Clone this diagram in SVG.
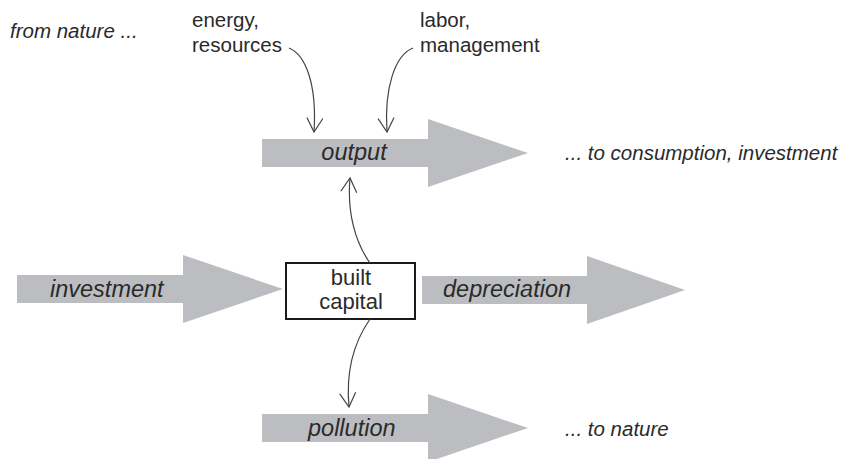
<svg xmlns="http://www.w3.org/2000/svg" width="865" height="459" viewBox="0 0 865 459">
<style>
.flow{fill:#bcbdc0;}
.in{font-family:"Liberation Sans",Arial,sans-serif;font-style:italic;font-size:23.5px;fill:#2a2a2a;}
.lab{font-family:"Liberation Sans",Arial,sans-serif;font-size:20.5px;fill:#2a2a2a;}
.it{font-style:italic;}
.box{fill:#fff;stroke:#1a1a1a;stroke-width:2;}
.boxt{font-family:"Liberation Sans",Arial,sans-serif;font-size:22px;fill:#2a2a2a;text-anchor:middle;}
.con{fill:none;stroke:#444;stroke-width:1.2;marker-end:url(#v);}
</style>
<defs>
<marker id="v" markerUnits="userSpaceOnUse" markerWidth="20" markerHeight="20" refX="15" refY="8" orient="auto" overflow="visible">
<path d="M1,0 L15,8 L1,16" fill="none" stroke="#444" stroke-width="1.2"/>
</marker>
</defs>
<g id="output">
<polygon class="flow" points="262,139 428,139 428,119 528,153 428,187 428,167 262,167"/>
<text class="in" x="354" y="160" text-anchor="middle">output</text>
</g>
<g id="investment">
<polygon class="flow" points="17,275 183,275 183,255 283,289 183,323 183,303 17,303"/>
<text class="in" x="50" y="297">investment</text>
</g>
<g id="depreciation">
<polygon class="flow" points="422,276 587,276 587,256 685,290 587,324 587,304 422,304"/>
<text class="in" x="443" y="297">depreciation</text>
</g>
<g id="pollution">
<polygon class="flow" points="262,414 428,414 428,394 528,428 428,462 428,442 262,442"/>
<text class="in" x="308" y="436">pollution</text>
</g>
<g id="built-capital">
<rect class="box" x="286" y="263" width="129" height="56"/>
<text class="boxt" x="351" y="285">built</text>
<text class="boxt" x="351" y="309">capital</text>
</g>
<g id="labels">
<text class="lab it" x="10" y="38">from nature ...</text>
<text class="lab" x="192" y="27">energy,</text>
<text class="lab" x="192" y="52">resources</text>
<text class="lab" x="420" y="27">labor,</text>
<text class="lab" x="420" y="52">management</text>
<text class="lab it" x="565" y="160">... to consumption, investment</text>
<text class="lab it" x="565" y="436">... to nature</text>
</g>
<g id="connectors">
<path class="con" d="M289,48 C306,55 317,85 314,132"/>
<path class="con" d="M413,48 C395,55 384,88 387,132"/>
<path class="con" d="M370,263 C355,242 347,212 350,178"/>
<path class="con" d="M370,319 C352,345 346,375 349,407"/>
</g>
</svg>
